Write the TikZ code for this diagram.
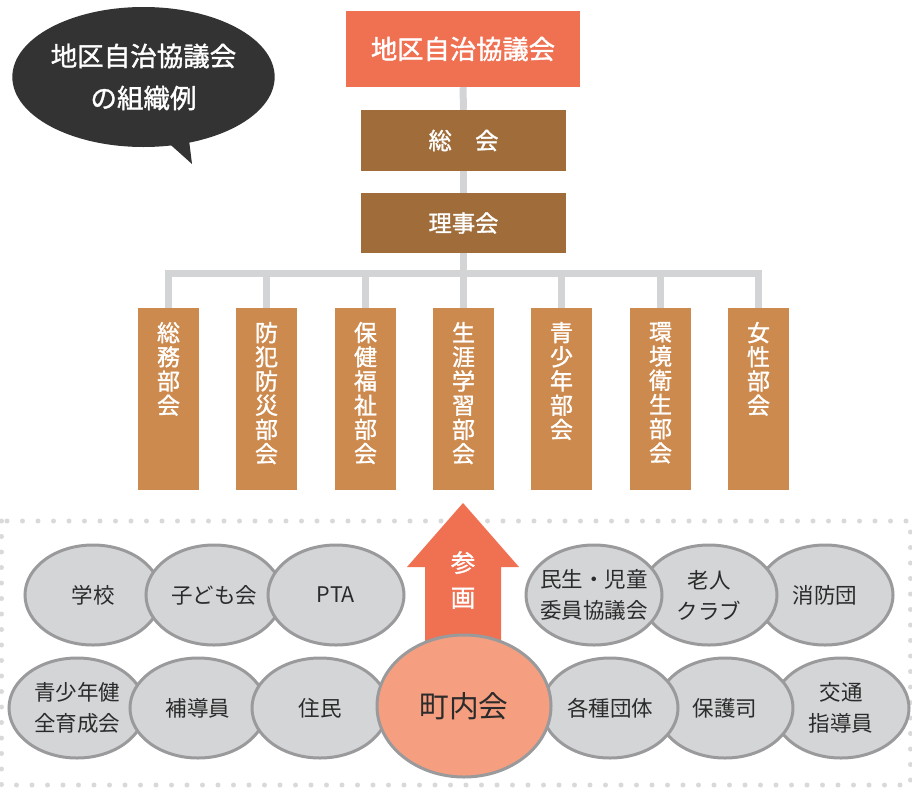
\documentclass[tikz,border=0pt]{standalone}
\usepackage{fontspec}
\setmainfont{Noto Sans CJK JP}
\newfontfamily\jpb[FakeBold=1.3]{Noto Sans CJK JP}
\usetikzlibrary{shapes.geometric}
\definecolor{topred}{HTML}{F07052}
\definecolor{brownbox}{HTML}{A06D3A}
\definecolor{colorange}{HTML}{CD8A4E}
\definecolor{ellgray}{HTML}{D4D5D7}
\definecolor{ellstroke}{HTML}{9A9A9C}
\definecolor{townfill}{HTML}{F59F80}
\definecolor{bubble}{HTML}{333333}
\definecolor{lgray}{HTML}{D3D4D6}
\definecolor{dotgray}{HTML}{D9D9DA}
\definecolor{textdark}{HTML}{2B2B2B}
\begin{document}
\begin{tikzpicture}[x=1pt,y=-1pt,
  conn/.style={draw=lgray, line width=7pt},
  headbox/.style={rectangle, inner sep=0, text=white, font=\jpb\fontsize{22}{24}\selectfont},
  colbox/.style={rectangle, fill=colorange, minimum width=61pt, minimum height=182pt, inner sep=0},
  coltext/.style={text=white, font=\jpb\fontsize{23}{24.2}\selectfont, align=center, anchor=north, inner sep=0},
  org/.style={ellipse, fill=ellgray, draw=ellstroke, line width=3pt, minimum width=136pt, minimum height=100pt, inner sep=0, font=\fontsize{21.5}{31}\selectfont, text=textdark, align=center}
]
\useasboundingbox (0,0) rectangle (912,787);

% dotted frame
\draw[dotgray, line width=5pt, line cap=round, dash pattern=on 0pt off 15.5pt] (1.5,521) rectangle (910.5,785);

% speech bubble
\fill[bubble] (163,138) -- (192,164) -- (188,132) -- cycle;
\node[ellipse, fill=bubble, minimum width=257pt, minimum height=140pt, inner sep=0,
      text=white, font=\jpb\fontsize{26.5}{42}\selectfont, align=center] (bub) at (143.5,77) {地区自治協議会\\の組織例};

% top hierarchy
\node[headbox, fill=topred, minimum width=234pt, minimum height=76pt, font=\jpb\fontsize{26.3}{28}\selectfont] (top) at (463,49) {地区自治協議会};
\node[headbox, fill=brownbox, minimum width=205pt, minimum height=61pt, font=\jpb\fontsize{23.3}{25}\selectfont] (sokai) at (463.5,140.5) {総　会};
\node[headbox, fill=brownbox, minimum width=205pt, minimum height=60pt, font=\jpb\fontsize{23.3}{25}\selectfont] (riji) at (463.5,223) {理事会};
\coordinate (bar) at (463,273.5);

% columns
\foreach \i/\x in {1/168.5,2/266.5,3/365.5,4/463.5,5/561.5,6/660.5,7/758.5}{
  \node[colbox] (c\i) at (\x,399) {};
}
\node[coltext] (t1) at ([yshift=-14pt]c1.north) {総\\務\\部\\会};
\node[coltext] (t2) at ([yshift=-14pt]c2.north) {防\\犯\\防\\災\\部\\会};
\node[coltext] (t3) at ([yshift=-14pt]c3.north) {保\\健\\福\\祉\\部\\会};
\node[coltext] (t4) at ([yshift=-14pt]c4.north) {生\\涯\\学\\習\\部\\会};
\node[coltext] (t5) at ([yshift=-14pt]c5.north) {青\\少\\年\\部\\会};
\node[coltext] (t6) at ([yshift=-14pt]c6.north) {環\\境\\衛\\生\\部\\会};
\node[coltext] (t7) at ([yshift=-14pt]c7.north) {女\\性\\部\\会};

% connectors
\draw[conn] (top.south) -- (sokai.north);
\draw[conn] (sokai.south) -- (riji.north);
\draw[conn] (riji.south) -- (riji.south |- bar);
\draw[conn, line cap=rect] (c1.north |- bar) -- (c7.north |- bar);
\foreach \i in {1,...,7}{
  \draw[conn] (c\i.north) -- (c\i.north |- bar);
}

% participation arrow
\fill[topred] (425,650) -- (425,567) -- (407,567) -- (463,503) -- (519,567) -- (501,567) -- (501,650) -- cycle;
\node[text=white, font=\jpb\fontsize{24.5}{35}\selectfont, align=center, inner sep=0] (sanka) at (463,580) {参\\画};

% left ellipses (right one on top)
\node[org] (e1) at (93,595) {学校};
\node[org] (e2) at (214,595) {子ども会};
\node[org] (e3) at (336,595) {PTA};
\node[org] (e4) at (77,708) {青少年健\\全育成会};
\node[org] (e5) at (198,708) {補導員};
\node[org] (e6) at (320,708) {住民};

% right ellipses (left one on top)
\node[org] (e9) at (825,595) {消防団};
\node[org] (e8) at (709,595) {老人\\クラブ};
\node[org, inner xsep=-12pt] (e7) at (594,595) {民生・児童\\委員協議会};
\node[org] (e12) at (841,708) {交通\\指導員};
\node[org] (e11) at (725,708) {保護司};
\node[org] (e10) at (610,708) {各種団体};

% town association
\node[ellipse, fill=townfill, draw=ellstroke, line width=3pt, minimum width=174pt, minimum height=142pt, inner sep=0,
      text=textdark, font=\fontsize{29.7}{32}\selectfont] (town) at (464,706) {町内会};
\end{tikzpicture}
\end{document}
